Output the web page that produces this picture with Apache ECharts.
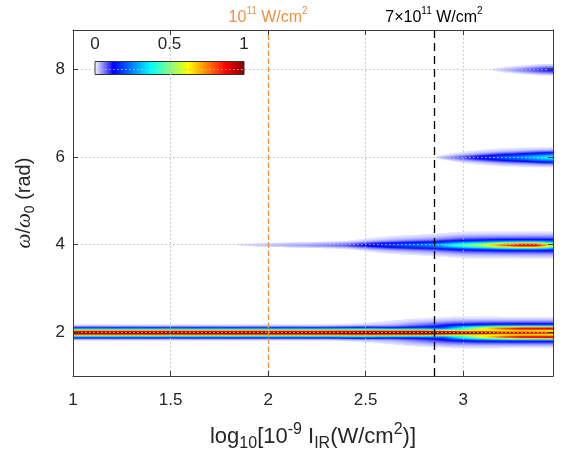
<!DOCTYPE html>
<html>
<head>
<meta charset="utf-8">
<script src="https://cdn.jsdelivr.net/npm/echarts@6/dist/echarts.min.js"></script>
<style>
  html, body { margin: 0; padding: 0; background: #ffffff; }
  #chart { width: 567px; height: 457px; }
</style>
</head>
<body>
<div id="chart"></div>
<script>
// ---- axes ----
const xRange = [1, 3.46];
const yRange = [1, 8.9];
const xTicks = [1, 1.5, 2, 2.5, 3];
const yTicks = [2, 4, 6, 8];
const colorbarTicks = [0, 0.5, 1];

// colour map: white running into jet
const cmap = ['#ffffff', '#0000ff', '#0080ff', '#00ffff', '#80ff80',
              '#ffff00', '#ff8000', '#ff0000', '#800000'];

// reference intensities, in units of 1e9 W/cm^2
const markerIntensities = [100, 700];          // 1e11 and 7e11 W/cm^2
const markerColors = ['#ee9040', '#000000'];

// ---- harmonic bands ----
// each profile: [log10 intensity, peak value, spectral width (sigma)]
const h2Core  = [[1.0, 1.0, 0.06], [2.5, 1.0, 0.06], [2.8, 0.92, 0.05], [3.0, 0.72, 0.035],
                 [3.2, 0.56, 0.025], [3.46, 0.5, 0.02]];
const h2Wing  = [[2.3, 0, 0.12], [2.5, 0.04, 0.13], [2.65, 0.08, 0.14], [2.8, 0.17, 0.14],
                 [2.95, 0.28, 0.14], [3.1, 0.36, 0.135], [3.3, 0.42, 0.13], [3.46, 0.42, 0.13]];
const h2Split = [[2.9, 0, 0.035], [3.0, 0.18, 0.035], [3.1, 0.35, 0.035], [3.2, 0.5, 0.035],
                 [3.3, 0.58, 0.035], [3.46, 0.6, 0.035]];
const h2SplitOffset = 0.1;
const h4Core  = [[1.75, 0, 0.02], [1.9, 0.02, 0.025], [2.0, 0.03, 0.03], [2.3, 0.06, 0.04],
                 [2.6, 0.12, 0.05], [2.85, 0.16, 0.05], [3.0, 0.3, 0.05], [3.1, 0.42, 0.05],
                 [3.2, 0.6, 0.05], [3.3, 0.72, 0.05], [3.37, 0.72, 0.05], [3.42, 0.55, 0.05],
                 [3.46, 0.4, 0.05]];
const h4Wing  = [[2.4, 0, 0.1], [2.6, 0.05, 0.11], [2.85, 0.1, 0.12], [3.0, 0.15, 0.13],
                 [3.2, 0.17, 0.13], [3.46, 0.18, 0.13]];
const h6Core  = [[2.83, 0, 0.01], [2.9, 0.03, 0.025], [3.0, 0.06, 0.04], [3.1, 0.1, 0.05],
                 [3.2, 0.14, 0.06], [3.3, 0.18, 0.065], [3.4, 0.25, 0.07], [3.46, 0.28, 0.07]];
const h6Wing  = [[2.85, 0, 0.06], [3.0, 0.03, 0.09], [3.2, 0.06, 0.11], [3.46, 0.09, 0.11]];
const h8Core  = [[3.1, 0, 0.02], [3.2, 0.025, 0.04], [3.3, 0.06, 0.05], [3.4, 0.1, 0.06],
                 [3.46, 0.12, 0.06]];

const components = [
  { center: 2, profile: h2Core },
  { center: 2, profile: h2Wing },
  { center: 2 + h2SplitOffset, profile: h2Split },
  { center: 2 - h2SplitOffset, profile: h2Split },
  { center: 4, profile: h4Core },
  { center: 4, profile: h4Wing },
  { center: 6, profile: h6Core },
  { center: 6, profile: h6Wing },
  { center: 8, profile: h8Core }
];

// cell size of the map
const DX = 0.01, DY = 0.02;

function profileAt(profile, x) {
  if (x < profile[0][0]) return null;
  for (let k = 0; k < profile.length - 1; k++) {
    const a = profile[k], b = profile[k + 1];
    if (x <= b[0]) {
      const t = (x - a[0]) / (b[0] - a[0]);
      return [a[1] + t * (b[1] - a[1]), a[2] + t * (b[2] - a[2])];
    }
  }
  const last = profile[profile.length - 1];
  return [last[1], last[2]];
}

const nCols = Math.round((xRange[1] - xRange[0]) / DX);
const nRows = Math.round((yRange[1] - yRange[0]) / DY);
const cells = [];
for (let i = 0; i < nCols; i++) {
  const x = xRange[0] + (i + 0.5) * DX;
  const col = new Float64Array(nRows);
  components.forEach(c => {
    const p = profileAt(c.profile, x);
    if (!p || p[0] <= 0) return;
    const [amp, sig] = p;
    for (let j = 0; j < nRows; j++) {
      const y = yRange[0] + (j + 0.5) * DY;
      const d = y - c.center;
      if (Math.abs(d) > 5 * sig) continue;
      col[j] += amp * Math.exp(-d * d / (2 * sig * sig));
    }
  });
  for (let j = 0; j < nRows; j++) {
    if (col[j] >= 0.012) {
      cells.push([x, yRange[0] + (j + 0.5) * DY, Math.min(1, col[j])]);
    }
  }
}

const FONT = '"Liberation Sans", Arial, Helvetica, sans-serif';
const TEXT = '#262626';
const FRAME = '#3a3a3a';
const gridLine = { show: true, lineStyle: { color: '#bcbcbc', width: 1, type: [1.5, 2.5] } };

const markerRich = {
  a: { fontSize: 16, fontFamily: FONT, lineHeight: 20, verticalAlign: 'bottom' },
  s: { fontSize: 10, fontFamily: FONT, lineHeight: 10, verticalAlign: 'top' }
};
const markerLabels = ['{a|10}{s|11}{a| W/cm}{s|2}', '{a|7×10}{s|11}{a| W/cm}{s|2}'];

const chart = echarts.init(document.getElementById('chart'), null, { renderer: 'canvas' });

const option = {
  animation: false,
  backgroundColor: '#ffffff',
  grid: { left: 73, top: 30, width: 480, height: 348, containLabel: false },
  xAxis: [{
    type: 'value', min: xRange[0], max: xRange[1], position: 'bottom', z: 5,
    axisLine: { show: true, onZero: false, lineStyle: { color: FRAME, width: 1 } },
    axisTick: { show: true, inside: true, length: 5, customValues: xTicks, lineStyle: { color: FRAME } },
    axisLabel: { customValues: xTicks, margin: 16, fontSize: 17, fontFamily: FONT, color: TEXT },
    splitLine: gridLine,
    name: '{m|log}{sub|10}{m|[10}{sup|-9}{m| I}{sub|IR}{m|(W/cm}{sup|2}{m|)]}',
    nameLocation: 'middle', nameGap: 46,
    nameTextStyle: {
      color: TEXT,
      rich: {
        m: { fontSize: 22, fontFamily: FONT, color: TEXT, lineHeight: 30, verticalAlign: 'middle' },
        sub: { fontSize: 16, fontFamily: FONT, color: TEXT, lineHeight: 16, verticalAlign: 'bottom' },
        sup: { fontSize: 16, fontFamily: FONT, color: TEXT, lineHeight: 16, verticalAlign: 'top' }
      }
    }
  }, {
    type: 'value', min: xRange[0], max: xRange[1], position: 'top', z: 5,
    axisLine: { show: true, onZero: false, lineStyle: { color: FRAME, width: 1 } },
    axisTick: { show: true, inside: true, length: 5, customValues: xTicks, lineStyle: { color: FRAME } },
    axisLabel: { show: false },
    splitLine: { show: false }
  }],
  yAxis: [{
    type: 'value', min: yRange[0], max: yRange[1], position: 'left', z: 5,
    axisLine: { show: true, onZero: false, lineStyle: { color: FRAME, width: 1 } },
    axisTick: { show: true, inside: true, length: 5, customValues: yTicks, lineStyle: { color: FRAME } },
    axisLabel: { customValues: yTicks, margin: 8, fontSize: 17, fontFamily: FONT, color: TEXT },
    splitLine: gridLine,
    name: '{i|ω}{m|/}{i|ω}{sub|0}{m| (rad)}',
    nameLocation: 'middle', nameGap: 36, nameRotate: 90,
    nameTextStyle: {
      color: TEXT,
      rich: {
        m: { fontSize: 20, fontFamily: FONT, color: TEXT, lineHeight: 26, verticalAlign: 'middle' },
        i: { fontSize: 21, fontFamily: '"Liberation Serif", "DejaVu Serif", serif', fontStyle: 'italic', color: TEXT, lineHeight: 26, verticalAlign: 'middle' },
        sub: { fontSize: 14, fontFamily: FONT, color: TEXT, lineHeight: 14, verticalAlign: 'bottom' }
      }
    }
  }, {
    type: 'value', min: yRange[0], max: yRange[1], position: 'right', z: 5,
    axisLine: { show: true, onZero: false, lineStyle: { color: FRAME, width: 1 } },
    axisTick: { show: true, inside: true, length: 5, customValues: yTicks, lineStyle: { color: FRAME } },
    axisLabel: { show: false },
    splitLine: { show: false }
  }],
  visualMap: {
    type: 'continuous', show: false, min: 0, max: 1, dimension: 2, seriesIndex: 0,
    inRange: { color: cmap }
  },
  series: [{
    type: 'custom',
    coordinateSystem: 'cartesian2d',
    xAxisIndex: 0, yAxisIndex: 0,
    clip: true,
    progressive: 0,
    silent: true,
    encode: { x: 0, y: 1 },
    data: cells,
    renderItem: function (params, api) {
      const x = api.value(0), y = api.value(1);
      const p0 = api.coord([x - DX / 2, y + DY / 2]);
      const p1 = api.coord([x + DX / 2, y - DY / 2]);
      return {
        type: 'rect',
        shape: { x: p0[0], y: p0[1], width: p1[0] - p0[0] + 0.6, height: p1[1] - p0[1] + 0.6 },
        style: { fill: api.visual('color') }
      };
    }
  }, {
    type: 'line',
    xAxisIndex: 0, yAxisIndex: 0,
    data: [],
    silent: true,
    z: 6,
    markLine: {
      silent: true,
      symbol: ['none', 'none'],
      animation: false,
      data: markerIntensities.map((v, k) => ({
        xAxis: Math.log10(v),
        lineStyle: { color: markerColors[k], width: 1.3, type: k === 0 ? [5, 3] : [8, 5] },
        label: {
          show: true, position: 'end', distance: 4,
          formatter: markerLabels[k],
          color: markerColors[k],
          rich: {
            a: Object.assign({ color: markerColors[k] }, markerRich.a),
            s: Object.assign({ color: markerColors[k] }, markerRich.s)
          }
        }
      }))
    }
  }],
  graphic: [{
    type: 'group', x: 95, y: 36, z: 20,
    children: [
      {
        type: 'rect',
        shape: { x: 0, y: 25.5, width: 149, height: 13 },
        style: {
          fill: new echarts.graphic.LinearGradient(0, 0, 1, 0,
            cmap.map((c, k) => ({ offset: k / (cmap.length - 1), color: c }))),
          stroke: '#333333', lineWidth: 1
        }
      }
    ].concat(colorbarTicks.map(t => ({
      type: 'text',
      x: t * 149, y: 8,
      style: {
        text: String(t), fill: TEXT, font: '17px ' + FONT,
        textAlign: 'center', textVerticalAlign: 'middle'
      }
    })))
  }]
};

chart.setOption(option);
</script>
</body>
</html>
